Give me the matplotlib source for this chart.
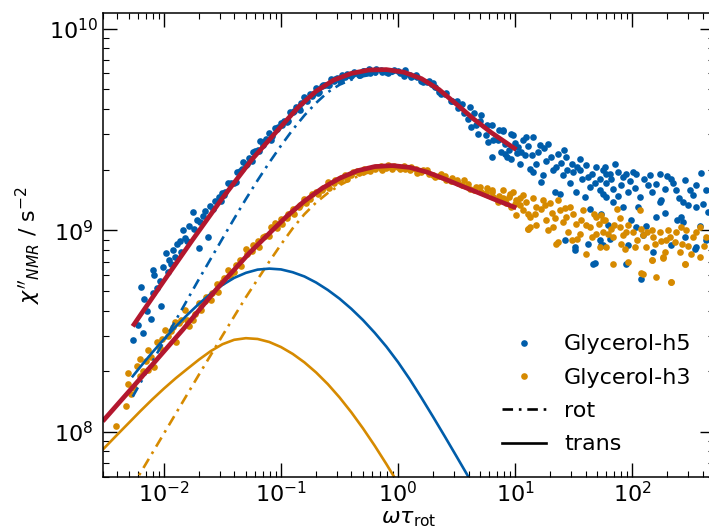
import numpy as np
import matplotlib.pyplot as plt
from matplotlib.lines import Line2D

blue = '#005DAA'
orange = '#D68A00'
red = '#B3172E'

# ---------------- Glycerol-h5 data: omega*tau_rot and chi'' (1e9 s^-2)
h5_low_w = [0.0054, 0.0060, 0.0064, 0.0066, 0.0068, 0.0072, 0.0078, 0.0080, 0.0080, 0.0083,
            0.0088, 0.0092, 0.0095, 0.0098, 0.0104, 0.0108, 0.0111, 0.0115, 0.0120, 0.0125,
            0.0130, 0.0136, 0.0140, 0.0145, 0.0150, 0.0158, 0.0165, 0.0176, 0.0180, 0.0190,
            0.0200, 0.0205, 0.0215, 0.0225, 0.0237, 0.0245, 0.0260, 0.0275, 0.0298, 0.0310]
h5_low_chi = [0.287, 0.34, 0.524, 0.31, 0.457, 0.40, 0.363, 0.489, 0.638, 0.60,
              0.52, 0.56, 0.423, 0.66, 0.774, 0.62, 0.715, 0.68, 0.80, 0.74,
              0.86, 0.883, 0.78, 1.00, 0.92, 0.88, 1.05, 1.23, 1.02, 1.12,
              0.82, 1.10, 1.18, 1.25, 0.93, 1.32, 1.28, 1.40, 1.47, 1.40]

h5_mid_w = [0.0316, 0.0335, 0.0355, 0.0376, 0.0398, 0.0422, 0.0447, 0.0473, 0.0501, 0.0531,
            0.0562, 0.0596, 0.0631, 0.0668, 0.0708, 0.0750, 0.0794, 0.0841, 0.0891, 0.0944,
            0.1000, 0.1059, 0.1122, 0.1189, 0.1259, 0.1334, 0.1413, 0.1496, 0.1585, 0.1679,
            0.1778, 0.1884, 0.1995, 0.2113, 0.2239, 0.2371, 0.2512, 0.2661, 0.2818, 0.2985,
            0.3162, 0.3350, 0.3548, 0.3758, 0.3981, 0.4217, 0.4467, 0.4732, 0.5012, 0.5309,
            0.5623, 0.631, 0.708, 0.794, 0.891, 1.000, 1.122, 1.259, 1.413, 1.585,
            1.778, 1.995, 2.239, 2.512, 2.818, 3.162, 3.548, 3.981, 4.467, 5.012,
            5.623, 6.310, 7.079, 7.943, 8.913, 10.00,
            0.0325, 0.0365, 0.0410, 0.0460, 0.0516, 0.0579, 0.0649, 0.0728, 0.0817, 0.0917,
            0.1029, 0.1155, 0.1296, 0.1454, 0.1631, 0.1830, 0.2053, 0.2304, 0.2585, 0.2900,
            0.3254, 0.3651, 0.4097, 0.4597, 0.5157, 0.5786, 0.6493, 0.7285, 0.8174, 0.9171,
            1.029, 1.155, 1.296, 1.454, 1.631, 1.830, 2.053, 2.304, 2.585, 2.900,
            3.254, 3.651, 4.097, 4.597, 5.157, 5.786, 6.493, 7.285, 8.174, 9.171, 10.29,
            5.9, 6.4, 7.5, 8.6, 9.3, 4.2, 4.8]
h5_mid_chi = [1.532, 1.540, 1.720, 1.714, 1.722, 1.943, 1.973, 2.179, 2.113, 2.293,
              2.217, 2.466, 2.512, 2.760, 2.658, 2.841, 3.037, 2.950, 3.216, 3.246,
              3.404, 3.498, 3.454, 3.839, 3.840, 4.103, 4.052, 4.301, 4.606, 4.387,
              4.751, 4.753, 5.094, 4.850, 5.207, 5.276, 5.226, 5.608, 5.503, 5.686,
              5.531, 5.889, 5.731, 5.922, 5.818, 6.099, 6.020, 5.879, 6.152, 6.070,
              6.299, 6.127, 6.252, 6.078, 6.147, 6.199, 5.838, 5.870, 5.910, 5.480,
              5.420, 5.356, 4.839, 4.768, 4.368, 4.386, 4.220, 3.570, 3.832, 3.474,
              2.975, 3.345, 2.817, 3.114, 2.496, 2.712,
              1.488, 1.704, 1.739, 2.011, 2.133, 2.441, 2.463, 2.762, 2.812, 3.186,
              3.338, 3.489, 3.916, 3.970, 4.432, 4.613, 4.800, 5.258, 5.280, 5.615,
              5.588, 5.965, 5.938, 5.899, 6.152, 6.050, 6.315, 6.127, 6.015, 6.209,
              6.015, 6.203, 5.751, 5.736, 5.423, 5.474, 5.148, 4.740, 4.815, 4.368,
              4.048, 3.822, 4.096, 3.335, 3.744, 3.327, 2.798, 3.136, 2.669, 3.000, 2.408,
              2.75, 2.31, 2.45, 2.30, 2.25, 3.25, 3.00]

h5_tail_w = [7.87, 9.57, 8.13, 10.6, 11.7, 12.5, 14.2, 16.2, 19.1, 13.3,
             15.2, 17.3, 16.7, 21.0, 23.2, 27.4, 30.3, 25.7, 29.2, 35.6,
             35.6, 41.9, 43.3, 49.4, 52.7, 60.1, 52.7, 60.1, 21.8, 24.0,
             33.3, 39.3, 43.3, 26.5, 32.3, 41.9, 47.9, 52.7, 56.4, 10.9,
             12.1, 14.2, 70.9, 56.4, 64.3, 60.1, 68.5, 83.6, 89.3, 101.6,
             108.6, 80.9, 92.0, 141.3, 136.8, 146.2, 171.8, 216.3, 223.4, 189.7,
             238.8, 281.2, 309.7, 354, 390, 430.5, 56.4, 116.1, 68.5, 83.6,
             112.2, 177.8, 171.8, 271.8, 299.9, 354, 444.6, 98.4, 158.9, 263.6,
             271.8, 54.6, 62.1, 123.9, 108.6, 281.2, 216.3, 342, 92.0, 150.7,
             89.3, 120.0, 54.6, 64.3, 430.5, 46.2, 32.3, 354,
             11.2, 12.8, 13.8, 15.8, 17.8, 18.5, 20.1, 22.4, 24.6, 26.0,
             28.0, 31.5, 33.8, 37.5, 40.0, 45.5, 48.0, 58.0, 66.0, 75.0,
             95.0, 105, 125, 160, 200, 250, 330, 400, 380, 130,
             190, 75, 240]
h5_tail_chi = [3.13, 2.96, 2.40, 2.59, 2.79, 2.90, 2.90, 2.64, 2.69, 2.02,
               2.14, 1.87, 1.74, 1.99, 2.40, 2.31, 2.14, 1.87, 1.71, 2.27,
               1.99, 1.84, 1.64, 2.06, 1.80, 1.91, 1.58, 1.46, 1.55, 1.52,
               1.55, 1.46, 1.28, 0.891, 0.826, 0.859, 0.689, 0.891, 0.843, 2.14,
               2.36, 1.95, 2.14, 1.99, 1.91, 1.71, 1.61, 1.84, 1.91, 1.95,
               1.91, 1.67, 1.55, 1.87, 1.67, 1.55, 1.91, 1.80, 1.71, 1.61,
               1.58, 1.77, 1.58, 1.67, 1.92, 1.58, 1.52, 1.47, 1.38, 1.30,
               1.31, 1.41, 1.38, 1.38, 1.33, 1.31, 1.23, 1.13, 1.16, 1.17,
               1.10, 1.21, 1.06, 0.945, 1.04, 0.926, 0.843, 0.811, 0.843, 0.780,
               0.684, 0.576, 0.843, 0.909, 0.891, 0.684, 0.796, 0.826,
               2.45, 2.62, 2.35, 2.45, 2.55, 2.20, 2.30, 2.05, 2.15, 2.50,
               2.00, 1.95, 2.05, 1.80, 2.10, 1.90, 1.72, 2.05, 1.80, 1.95,
               1.75, 1.62, 1.80, 1.70, 1.85, 1.45, 1.50, 1.35, 1.05, 1.05,
               1.22, 1.48, 1.12]

# ---------------- Glycerol-h3 data
h3_low_w = [0.0039, 0.0047, 0.0049, 0.0049, 0.0052, 0.0055, 0.0059, 0.0062, 0.0062, 0.0066,
            0.0070, 0.0073, 0.0073, 0.0078, 0.0083, 0.0087, 0.0092, 0.0097, 0.0102, 0.0108,
            0.0114, 0.0120, 0.0124, 0.0128, 0.0134, 0.0140, 0.0150]
h3_low_chi = [0.107, 0.135, 0.195, 0.172, 0.155, 0.165, 0.212, 0.229, 0.19, 0.20,
              0.225, 0.254, 0.202, 0.235, 0.210, 0.279, 0.26, 0.29, 0.319, 0.30,
              0.315, 0.33, 0.351, 0.279, 0.345, 0.36, 0.401]

h3_mid_w = [0.01585, 0.01778, 0.01995, 0.02239, 0.02512, 0.02818, 0.03162, 0.03548, 0.03981, 0.04467,
            0.05012, 0.05623, 0.06310, 0.07079, 0.07943, 0.08913, 0.1, 0.1122, 0.1259, 0.1413,
            0.1585, 0.1778, 0.1995, 0.2239, 0.2512, 0.2818, 0.3162, 0.3548, 0.3981, 0.4467,
            0.5012, 0.5623, 0.6310, 0.7079, 0.7943, 0.8913, 1.0, 1.122, 1.259, 1.413,
            1.585, 1.778, 1.995, 2.239, 2.512, 2.818, 3.162, 3.548, 3.981, 4.467,
            5.012, 5.623, 6.310, 7.079, 7.943, 8.913, 10.0,
            0.01631, 0.01830, 0.02053, 0.02304, 0.02585, 0.02900, 0.03254, 0.03651, 0.04097, 0.04597,
            0.05157, 0.05786, 0.06493, 0.07285, 0.08174, 0.09171, 0.1029, 0.1155, 0.1296, 0.1454,
            0.1631, 0.1830, 0.2053, 0.2304, 0.2585, 0.2900, 0.3254, 0.3651, 0.4097, 0.4597,
            0.5157, 0.5786, 0.6493, 0.7285, 0.8174, 0.9171, 1.029, 1.155, 1.296, 1.454,
            1.631, 1.830, 2.053, 2.304, 2.585, 2.900, 3.254, 3.651, 4.097, 4.597,
            5.157, 5.786, 6.493, 7.285, 8.174, 9.171, 10.29,
            6.4, 9.0, 10.2, 11.7, 13.3, 12.9]
h3_mid_chi = [0.359, 0.360, 0.434, 0.445, 0.453, 0.543, 0.557, 0.635, 0.624, 0.713,
              0.804, 0.785, 0.889, 0.922, 0.937, 1.092, 1.135, 1.152, 1.282, 1.305,
              1.424, 1.422, 1.553, 1.582, 1.729, 1.725, 1.757, 1.881, 1.881, 1.972,
              1.944, 2.017, 2.008, 2.080, 2.047, 2.010, 2.059, 2.086, 1.989, 2.014,
              1.937, 1.980, 1.873, 1.859, 1.849, 1.746, 1.783, 1.685, 1.703, 1.583,
              1.631, 1.527, 1.557, 1.389, 1.450, 1.463, 1.349,
              0.335, 0.386, 0.402, 0.467, 0.486, 0.497, 0.579, 0.593, 0.675, 0.665,
              0.760, 0.849, 0.830, 0.940, 1.043, 1.030, 1.069, 1.199, 1.208, 1.331,
              1.368, 1.510, 1.507, 1.614, 1.612, 1.777, 1.811, 1.806, 1.957, 1.933,
              2.024, 1.976, 2.070, 1.997, 2.110, 2.073, 2.018, 2.024, 2.051, 1.933,
              1.997, 1.902, 1.835, 1.896, 1.777, 1.816, 1.715, 1.768, 1.607, 1.645,
              1.554, 1.616, 1.456, 1.473, 1.409, 1.303, 1.401,
              1.58, 1.52, 1.41, 1.26, 1.16, 1.02]

h3_tail_w = [7.87, 9.57, 11.7, 14.2, 17.3, 8.41, 10.9, 10.2, 12.9, 15.2,
             19.8, 23.2, 13.3, 18.5, 21.0, 24.0, 27.4, 29.2, 33.3, 38.0,
             43.3, 49.4, 56.4, 35.6, 49.4, 23.2, 30.3, 40.6, 52.7, 12.9,
             15.2, 54.6, 58.3, 73.5, 78.3, 56.4, 66.5, 78.3, 92.0, 101.6,
             120.0, 146.2, 171.8, 202.3, 238.8, 263.6, 290.4, 377.6, 430.5, 331.1,
             195.9, 150.7, 123.9, 83.6, 68.5, 60.1, 80.9, 105.2, 132.4, 155.6,
             230.7, 299.9, 86.5, 189.7, 254.7, 320.6, 377.6, 146.2, 183.2, 68.5,
             92.0, 281.2, 120.0, 161.1, 213.3, 116.1, 22.5, 123.9, 216.3, 146.2,
             183.2, 281.2,
             11.0, 12.4, 14.8, 16.5, 18.0, 20.5, 22.0, 25.5, 26.8, 31.5,
             36.5, 40.5, 45.5, 47.0, 52.0, 62.0, 70.0, 88.0, 110.0, 135,
             175, 210, 265, 350, 410, 28.5, 34.0, 19.0]
h3_tail_chi = [1.58, 1.55, 1.49, 1.44, 1.41, 1.36, 1.33, 1.19, 1.21, 1.31,
               1.36, 1.41, 1.04, 1.12, 1.04, 1.26, 1.16, 1.31, 1.08, 1.26,
               1.04, 1.16, 1.12, 0.963, 0.963, 0.875, 0.891, 0.766, 0.826, 1.02,
               1.06, 1.19, 1.12, 1.27, 1.15, 0.981, 1.02, 1.04, 1.06, 0.981,
               1.02, 1.00, 0.981, 1.00, 0.981, 1.04, 1.00, 1.04, 0.926, 0.926,
               0.899, 0.926, 0.945, 0.945, 0.926, 0.826, 0.859, 0.826, 0.826, 0.853,
               0.875, 0.834, 0.811, 0.780, 0.780, 0.766, 0.738, 0.716, 0.732, 0.684,
               0.696, 0.678, 0.614, 0.586, 0.551, 1.26, 0.859, 0.610, 0.554, 0.710,
               0.738, 0.684,
               1.45, 1.38, 1.20, 1.27, 1.33, 1.22, 1.15, 1.10, 1.29, 1.20,
               1.12, 1.06, 0.93, 1.20, 1.08, 0.96, 1.06, 0.98, 0.90, 0.98,
               0.88, 0.93, 0.86, 0.98, 0.84, 0.98, 0.91, 1.00]

# ---------------- model curves
fit5_w = [0.00541, 0.01, 0.0176, 0.0316, 0.0562, 0.1, 0.1413, 0.1995, 0.2818, 0.398,
          0.562, 0.794, 1.122, 1.585, 2.239, 3.162, 4.467, 6.31, 10.23]
fit5_chi = [0.334, 0.562, 0.899, 1.445, 2.239, 3.273, 4.093, 4.898, 5.559, 5.998,
            6.237, 6.266, 6.081, 5.649, 4.989, 4.217, 3.548, 3.041, 2.512]

fit3_w = [0.0030, 0.00501, 0.00752, 0.01449, 0.02793, 0.05383, 0.0794, 0.1122, 0.1585, 0.2239,
          0.3162, 0.4467, 0.631, 0.891, 1.259, 1.778, 2.512, 3.548, 5.012, 7.079, 10.23]
fit3_chi = [0.113, 0.1585, 0.2075, 0.3214, 0.5082, 0.7727, 0.966, 1.175, 1.396, 1.614,
            1.811, 1.972, 2.070, 2.094, 2.051, 1.941, 1.795, 1.652, 1.524, 1.403, 1.291]

rot5_w = [0.00541, 0.00794, 0.01259, 0.01995, 0.03162, 0.03981, 0.05012, 0.0631, 0.07943, 0.1,
          0.1259, 0.1585, 0.1995, 0.2512, 0.3162, 0.3981, 0.5012, 0.631, 0.7943, 1.0,
          1.259, 1.585, 1.995, 2.512, 3.162, 3.981, 5.012, 6.31, 7.943, 10.23]
rot5_chi = [0.1496, 0.2223, 0.3573, 0.5741, 0.9099, 1.143, 1.429, 1.770, 2.168, 2.630,
            3.155, 3.715, 4.285, 4.842, 5.272, 5.585, 5.808, 5.943, 5.998, 5.957,
            5.808, 5.508, 5.105, 4.656, 4.178, 3.733, 3.350, 3.020, 2.735, 2.489]

rot3_w = [0.002512, 0.0030, 0.005012, 0.00794, 0.01259, 0.01995, 0.03162, 0.05012, 0.07943, 0.1,
          0.1259, 0.1585, 0.1995, 0.2512, 0.3162, 0.3981, 0.5012, 0.631, 0.7943, 1.0,
          1.259, 1.778, 2.512, 3.548, 5.012, 7.079, 10.23]
rot3_chi = [0.02512, 0.0302, 0.0501, 0.0785, 0.1230, 0.1928, 0.3006, 0.4656, 0.6998, 0.8511,
            1.023, 1.202, 1.374, 1.531, 1.671, 1.795, 1.897, 1.977, 2.014, 2.018,
            2.004, 1.905, 1.774, 1.637, 1.514, 1.393, 1.282]

trans5_w = [0.00541, 0.00631, 0.00794, 0.01, 0.01259, 0.01585, 0.01995, 0.02512, 0.03162, 0.03981,
            0.05012, 0.0631, 0.07943, 0.1, 0.1259, 0.1585, 0.1995, 0.2512, 0.3162, 0.3981,
            0.5012, 0.631, 0.7943, 1.0, 1.259, 1.585, 1.995, 2.512, 3.162, 3.981, 5.012]
trans5_chi = [0.1888, 0.2109, 0.2477, 0.2884, 0.3327, 0.3811, 0.4325, 0.4853, 0.5358, 0.5808,
              0.6152, 0.6383, 0.6457, 0.6397, 0.6194, 0.5902, 0.5508, 0.5058, 0.4581, 0.4083,
              0.3589, 0.3105, 0.2649, 0.2218, 0.1824, 0.1476, 0.1186, 0.0948, 0.0755, 0.0600,
              0.0476]

trans3_w = [0.002512, 0.0030, 0.003981, 0.005012, 0.00631, 0.00794, 0.01, 0.01259, 0.01585, 0.01995,
            0.02512, 0.03162, 0.03981, 0.05012, 0.0631, 0.07943, 0.1, 0.1259, 0.1585, 0.1995,
            0.2512, 0.3162, 0.3981, 0.5012, 0.631, 0.7943, 1.0, 1.259]
trans3_chi = [0.0735, 0.0817, 0.0968, 0.1109, 0.1271, 0.1449, 0.1641, 0.1845, 0.2056, 0.2286,
              0.2518, 0.2723, 0.2864, 0.2917, 0.2891, 0.2793, 0.2636, 0.2438, 0.2213, 0.1972,
              0.1726, 0.1483, 0.1253, 0.1042, 0.0855, 0.0693, 0.0556, 0.0442]

scale = 1e9

fig = plt.figure(figsize=(7.09, 5.31), dpi=100)
ax = fig.add_axes([0.1449, 0.1023, 0.8622, 0.8738])

ms = 4.8
ax.plot(h5_low_w + h5_mid_w + h5_tail_w,
        np.array(h5_low_chi + h5_mid_chi + h5_tail_chi) * scale,
        ls='none', marker='o', ms=ms, mew=0, color=blue)
ax.plot(h3_low_w + h3_mid_w + h3_tail_w,
        np.array(h3_low_chi + h3_mid_chi + h3_tail_chi) * scale,
        ls='none', marker='o', ms=ms, mew=0, color=orange)

dashdot = (0, (4, 2.2, 1, 2.2))
ax.plot(rot5_w, np.array(rot5_chi) * scale, color=blue, lw=1.9, ls=dashdot)
ax.plot(rot3_w, np.array(rot3_chi) * scale, color=orange, lw=1.9, ls=dashdot)
ax.plot(trans5_w, np.array(trans5_chi) * scale, color=blue, lw=1.9)
ax.plot(trans3_w, np.array(trans3_chi) * scale, color=orange, lw=1.9)
ax.plot(fit5_w, np.array(fit5_chi) * scale, color=red, lw=3.4, solid_capstyle='butt')
ax.plot(fit3_w, np.array(fit3_chi) * scale, color=red, lw=3.4, solid_capstyle='butt')

ax.set_xscale('log')
ax.set_yscale('log')
ax.set_xlim(3e-3, 5e2)
ax.set_ylim(6e7, 1.2e10)

ax.set_xlabel(r'$\omega\tau_{\mathrm{rot}}$', fontsize=16, labelpad=2)
ax.set_ylabel(r"$\chi''_{NMR}$ / s$^{-2}$", fontsize=16)

ax.tick_params(which='both', direction='in', top=True, right=True, labelsize=16)
ax.tick_params(which='major', length=10, width=1.0)
ax.tick_params(which='minor', length=4.5, width=0.8)
ax.tick_params(axis='x', which='major', pad=3)
ax.tick_params(axis='y', which='major', pad=21)
for sp in ax.spines.values():
    sp.set_linewidth(1.1)
plt.setp(ax.get_yticklabels(), ha='center')

handles = [
    Line2D([], [], ls='none', marker='o', ms=ms, mew=0, color=blue),
    Line2D([], [], ls='none', marker='o', ms=ms, mew=0, color=orange),
    Line2D([], [], color='black', lw=1.9, ls=dashdot),
    Line2D([], [], color='black', lw=1.9),
]
ax.legend(handles, ['Glycerol-h5', 'Glycerol-h3', 'rot', 'trans'],
          loc='lower right', frameon=False, fontsize=16, numpoints=1,
          handlelength=2.0, labelspacing=0.6, borderaxespad=0.6)

fig.savefig('out.png', dpi=100)
